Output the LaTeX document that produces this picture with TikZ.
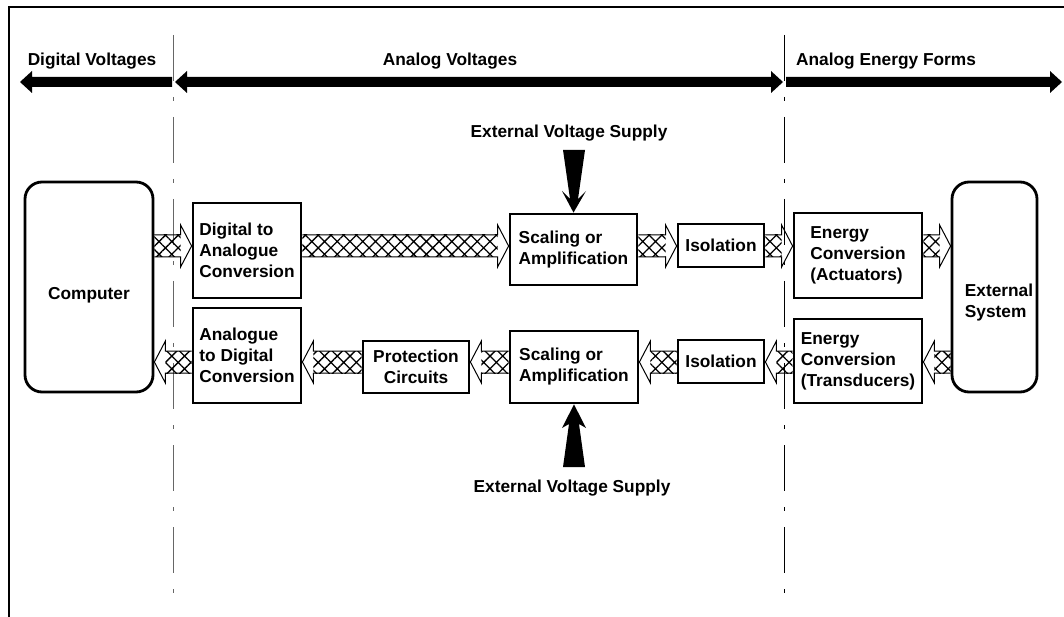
\documentclass[tikz,border=0pt]{standalone}
\usepackage{fontspec}
\setmainfont{Liberation Sans}
\usetikzlibrary{calc,patterns.meta}
\newcommand\lbl{\bfseries\fontsize{17.3}{21}\selectfont}
\tikzset{
  box/.style={draw, line width=2.8pt, font=\lbl, align=left, inner sep=0pt},
  rbox/.style={box, rounded corners=17pt},
  txt/.style={font=\lbl, align=left, inner sep=0pt},
  hatchfill/.style={pattern={Hatch[angle=45,distance=9pt,line width=1.3pt]}},
  hatchline/.style={draw, line width=1pt, line join=miter},
  divider/.style={line width=0.9pt, dash pattern=on 46pt off 16pt on 4pt off 16pt},
  band/.style={fill=black},
  frame/.style={line width=2pt}
}
% hatched fat arrow pointing right, from node #1 to node #2 at height #3
\newcommand\hatR[3]{%
  \coordinate (hA) at (#1.east |- 0,#3);
  \coordinate (hB) at (#2.west |- 0,#3);
  \fill[hatchfill] ($(hA)+(0,-11)$) rectangle ($(hB)+(-11,11)$);
  \draw[hatchline] ($(hA)+(0,-11)$) -- ($(hB)+(-11,-11)$) -- ($(hB)+(-11,-21)$) -- (hB)
     -- ($(hB)+(-11,21)$) -- ($(hB)+(-11,11)$) -- ($(hA)+(0,11)$);
}
% hatched fat arrow pointing left, from node #1 (on the right) to node #2 (on the left)
\newcommand\hatL[3]{%
  \coordinate (hA) at (#1.west |- 0,#3);
  \coordinate (hB) at (#2.east |- 0,#3);
  \fill[hatchfill] ($(hA)+(0,-11)$) rectangle ($(hB)+(11,11)$);
  \draw[hatchline] ($(hA)+(0,-11)$) -- ($(hB)+(11,-11)$) -- ($(hB)+(11,-21)$) -- (hB)
     -- ($(hB)+(11,21)$) -- ($(hB)+(11,11)$) -- ($(hA)+(0,11)$);
}
\begin{document}
\begin{tikzpicture}[x=1pt,y=-1pt]
\useasboundingbox (0,0) rectangle (1064,617);
% frame
\draw[frame] (8.5,617) -- (8.5,7) -- (1064,7);
% dividers
\coordinate (d1t) at (173.5,35); \coordinate (d1b) at (173.5,600);
\coordinate (d2t) at (784.5,35); \coordinate (d2b) at (784.5,600);
\draw[divider, draw=black!60] (d1t) -- (d1b);
\draw[divider] (d2t) -- (d2b);
% band arrows
\fill[band] (172,77) -- (32,77) -- (32,71) -- (20,82) -- (32,93) -- (32,87) -- (172,87) -- cycle;
\fill[band] (175,82) -- (187,71) -- (187,77) -- (771,77) -- (771,71) -- (783,82) -- (771,93) -- (771,87) -- (187,87) -- (187,93) -- cycle;
\fill[band] (786,77) -- (1050,77) -- (1050,71) -- (1062,82) -- (1050,93) -- (1050,87) -- (786,87) -- cycle;
\node[txt] (dv) at (92,61) {Digital Voltages};
\node[txt] (av) at (450,61) {Analog Voltages};
\node[txt] (ae) at (886,61) {Analog Energy Forms};
% boxes
\node[rbox, minimum width=128pt, minimum height=210pt] (comp) at (89,287) {};
\node[txt] (compt) at (89,295) {Computer};
\node[rbox, minimum width=85pt, minimum height=210pt] (ext) at (994.5,287) {};
\node[txt] (extt) at (999,303) {External\\System};
\node[box, minimum width=108pt, minimum height=95pt] (dac) at (247,250.5) {Digital to\\Analogue\\Conversion};
\node[box, minimum width=108pt, minimum height=95pt] (adc) at (247,355.5) {Analogue\\to Digital\\Conversion};
\node[box, minimum width=127pt, minimum height=71pt] (sc1) at (573.5,249.5) {Scaling or\\Amplification};
\node[box, minimum width=128pt, minimum height=72pt] (sc2) at (574,367) {Scaling or\\Amplification};
\node[box, minimum width=106pt, minimum height=52pt, align=center] (prot) at (416,367) {Protection\\Circuits};
\node[box, minimum width=86pt, minimum height=43pt] (iso1) at (721,245.5) {Isolation};
\node[box, minimum width=86pt, minimum height=43pt] (iso2) at (721,361.5) {Isolation};
\node[box, minimum width=128pt, minimum height=85pt] (ea) at (858,255.5) {Energy\\Conversion\\(Actuators)};
\node[box, minimum width=128pt, minimum height=84pt] (et) at (858,361) {Energy\\Conversion\\(Transducers)};
% hatched arrows, top row
\hatR{comp}{dac}{246}
\hatR{dac}{sc1}{246}
\hatR{sc1}{iso1}{246}
\hatR{iso1}{ea}{246}
\hatR{ea}{ext}{246}
% hatched arrows, bottom row
\hatL{ext}{et}{362}
\hatL{et}{iso2}{362}
\hatL{iso2}{sc2}{362}
\hatL{sc2}{prot}{362}
\hatL{prot}{adc}{362}
\hatL{adc}{comp}{362}
% external voltage supplies
\node[txt] (evs1) at (569,133) {External Voltage Supply};
\node[txt] (evs2) at (572,488) {External Voltage Supply};
\coordinate (t1) at (sc1.north);
\fill[band] (563,150) -- (570,199) -- (562,191) -- (t1) -- (586,191) -- (578,199) -- (585,150) -- cycle;
\coordinate (t2) at (sc2.south);
\fill[band] (563,467) -- (569,424) -- (562,428) -- (t2) -- (586,428) -- (579,424) -- (585,467) -- cycle;
\end{tikzpicture}
\end{document}
